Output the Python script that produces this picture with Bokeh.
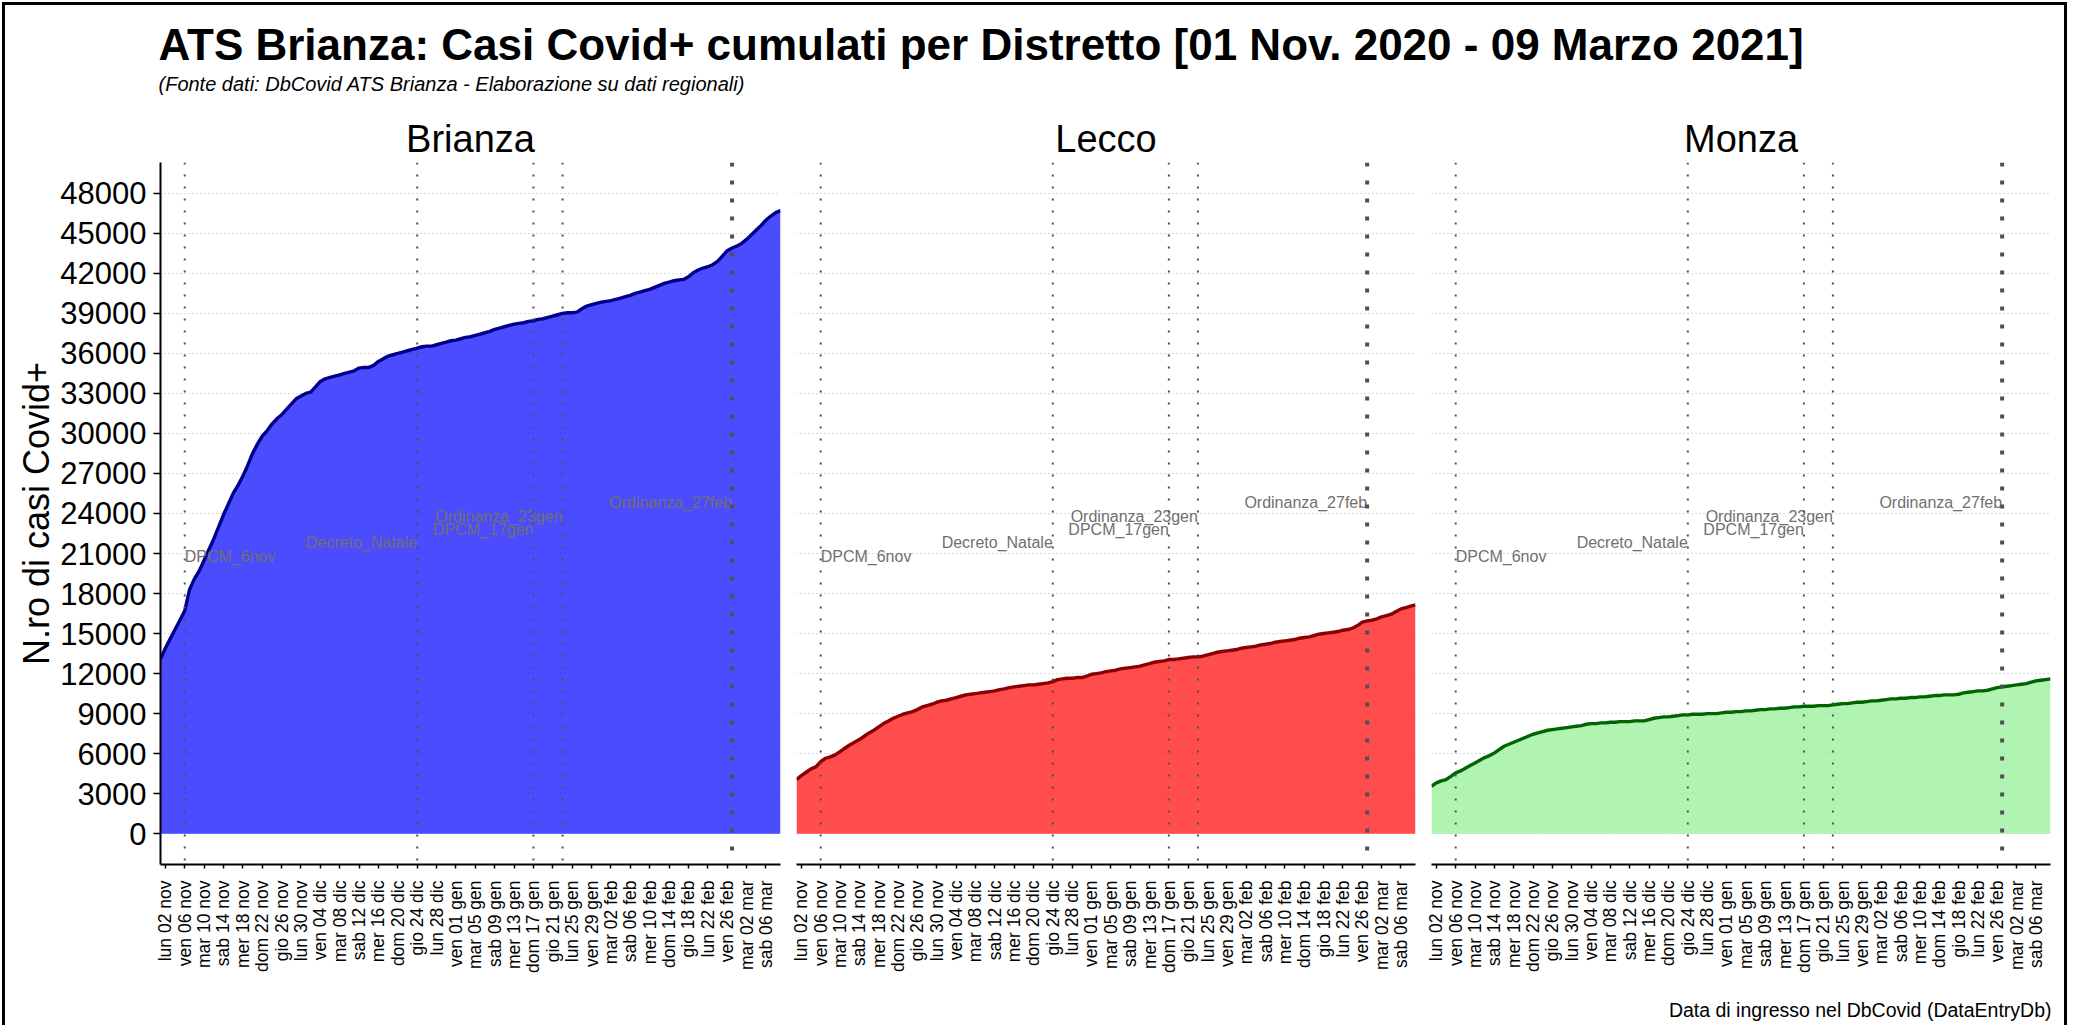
import math
from bokeh.plotting import figure
from bokeh.layouts import column, row
from bokeh.models import Range1d, FixedTicker, Span, ColumnDataSource
from bokeh.core.properties import value
from bokeh.embed import file_html
from bokeh.resources import INLINE

FONT = "Liberation Sans"

TITLE = "ATS Brianza: Casi Covid+ cumulati per Distretto [01 Nov. 2020 - 09 Marzo 2021]"
SUBTITLE = "(Fonte dati: DbCovid ATS Brianza - Elaborazione su dati regionali)"
Y_LABEL = "N.ro di casi Covid+"
X_LABEL = "Data di ingresso nel DbCovid (DataEntryDb)"

districts = ["Brianza", "Lecco", "Monza"]

# day index: 0 = 01 nov 2020 ... 128 = 09 mar 2021
brianza = [
    13100, 13900, 14600, 15300, 16000, 16700, 18300, 19100, 19700, 20500,
    21300, 22100, 23000, 23900, 24700, 25500, 26100, 26800, 27600, 28500,
    29200, 29800, 30200, 30700, 31100, 31400, 31800, 32200, 32600, 32800,
    33000, 33100, 33500, 33900, 34100, 34200, 34300, 34400, 34500, 34600,
    34700, 34900, 34950, 34950, 35100, 35400, 35600, 35800, 35900, 36000,
    36100, 36200, 36300, 36400, 36500, 36550, 36550, 36650, 36750, 36850,
    36950, 37000, 37100, 37200, 37250, 37350, 37450, 37550, 37650, 37800,
    37900, 38000, 38100, 38200, 38250, 38300, 38400, 38450, 38550, 38600,
    38700, 38800, 38900, 39000, 39050, 39050, 39100, 39350, 39550, 39650,
    39750, 39850, 39900, 39950, 40050, 40150, 40250, 40350, 40500, 40600,
    40700, 40800, 40950, 41100, 41250, 41350, 41450, 41500, 41550, 41750,
    42050, 42250, 42400, 42500, 42650, 42900, 43300, 43700, 43900, 44050,
    44250, 44550, 44900, 45250, 45600, 46000, 46300, 46550, 46700,
]
lecco = [
    4050, 4350, 4600, 4850, 5000, 5400, 5650, 5750, 5900, 6150,
    6400, 6650, 6850, 7050, 7300, 7550, 7750, 8000, 8250, 8450,
    8650, 8800, 8950, 9050, 9150, 9300, 9500, 9600, 9700, 9850,
    9950, 10000, 10100, 10200, 10300, 10400, 10450, 10500, 10550, 10600,
    10650, 10700, 10800, 10850, 10950, 11000, 11050, 11100, 11150, 11150,
    11200, 11250, 11300, 11400, 11550, 11600, 11650, 11650, 11700, 11700,
    11800, 11950, 12000, 12050, 12150, 12200, 12250, 12350, 12400, 12450,
    12500, 12550, 12650, 12750, 12850, 12900, 12950, 13050, 13050, 13100,
    13150, 13200, 13250, 13250, 13300, 13400, 13500, 13600, 13650, 13700,
    13750, 13800, 13900, 13950, 14000, 14050, 14150, 14200, 14250, 14350,
    14400, 14450, 14500, 14550, 14650, 14700, 14750, 14850, 14950, 15000,
    15050, 15100, 15150, 15250, 15300, 15400, 15600, 15850, 15950, 16000,
    16100, 16250, 16350, 16450, 16650, 16850, 16950, 17050, 17150,
]
monza = [
    3550, 3800, 3950, 4050, 4300, 4550, 4700, 4900, 5100, 5300,
    5500, 5700, 5850, 6050, 6300, 6550, 6700, 6850, 7000, 7150,
    7300, 7450, 7550, 7650, 7750, 7800, 7850, 7900, 7950, 8000,
    8050, 8100, 8200, 8250, 8250, 8300, 8300, 8350, 8350, 8400,
    8400, 8400, 8450, 8450, 8450, 8550, 8650, 8700, 8750, 8750,
    8800, 8850, 8900, 8900, 8950, 8950, 8950, 9000, 9000, 9000,
    9050, 9100, 9100, 9150, 9150, 9200, 9200, 9250, 9300, 9300,
    9350, 9350, 9400, 9400, 9450, 9500, 9500, 9550, 9550, 9550,
    9600, 9600, 9600, 9650, 9700, 9750, 9750, 9800, 9850, 9850,
    9900, 9950, 9950, 10000, 10050, 10100, 10100, 10150, 10150, 10200,
    10200, 10250, 10250, 10300, 10350, 10350, 10400, 10400, 10400, 10450,
    10550, 10600, 10650, 10700, 10700, 10750, 10850, 10950, 11000, 11050,
    11100, 11150, 11200, 11250, 11350, 11450, 11500, 11550, 11600,
]
days = list(range(len(brianza)))

tick_days = [1, 5, 9, 13, 17, 21, 25, 29, 33, 37, 41, 45, 49, 53, 57, 61,
             65, 69, 73, 77, 81, 85, 89, 93, 97, 101, 105, 109, 113, 117, 121, 125]
tick_labels = ["lun 02 nov", "ven 06 nov", "mar 10 nov", "sab 14 nov", "mer 18 nov",
               "dom 22 nov", "gio 26 nov", "lun 30 nov", "ven 04 dic", "mar 08 dic",
               "sab 12 dic", "mer 16 dic", "dom 20 dic", "gio 24 dic", "lun 28 dic",
               "ven 01 gen", "mar 05 gen", "sab 09 gen", "mer 13 gen", "dom 17 gen",
               "gio 21 gen", "lun 25 gen", "ven 29 gen", "mar 02 feb", "sab 06 feb",
               "mer 10 feb", "dom 14 feb", "gio 18 feb", "lun 22 feb", "ven 26 feb",
               "mar 02 mar", "sab 06 mar"]
y_ticks = [0, 3000, 6000, 9000, 12000, 15000, 18000, 21000, 24000, 27000,
           30000, 33000, 36000, 39000, 42000, 45000, 48000]

event_names = ["DPCM_6nov", "Decreto_Natale", "DPCM_17gen", "Ordinanza_23gen", "Ordinanza_27feb"]
event_days = [5, 53, 77, 83, 118]
event_label_y = [20800, 21800, 22800, 23800, 24800]

series = [brianza, lecco, monza]
fills = ["#0000FF", "#FF0000", "#90EE90"]
strokes = ["#00008B", "#8B0000", "#006400"]

# ---------------- layout constants (px) ----------------
INNER_W = 2059
HEADER_H = 157
FRAME_H = 705
BOTTOM_B = 108
PANEL_H = FRAME_H + BOTTOM_B
FOOTER_H = 50
FRAME_W = [620, 619, 619]
LEFT = [155, 8, 8]
RIGHT = [8, 8, 14]

header = figure(width=INNER_W, height=HEADER_H, x_range=Range1d(0, INNER_W),
                y_range=Range1d(HEADER_H, 0), x_axis_location=None, y_axis_location=None,
                min_border=0, toolbar_location=None, outline_line_color=None,
                output_backend="svg")
header.grid.visible = False
header.text(x=[153], y=[38.5], text=[TITLE], text_font=value(FONT), text_font_style="bold",
            text_font_size="44px", text_align="left", text_baseline="alphabetic",
            text_color="black")
header.text(x=[153], y=[78], text=[SUBTITLE], text_font=value(FONT), text_font_style="italic",
            text_font_size="20px", text_align="left", text_baseline="alphabetic",
            text_color="black")

panel_centers = []
xpos = 0
for i in range(3):
    panel_centers.append(xpos + LEFT[i] + FRAME_W[i] / 2)
    xpos += LEFT[i] + FRAME_W[i] + RIGHT[i]
header.text(x=panel_centers, y=[133, 133, 133], text=districts, text_font=value(FONT),
            text_font_size="38px", text_align="center", text_baseline="alphabetic",
            text_color="black")

yr = Range1d(-2314, 50313)
panels = []
for i in range(3):
    w = LEFT[i] + FRAME_W[i] + RIGHT[i]
    p = figure(width=w, height=PANEL_H, x_range=Range1d(0, 128), y_range=yr,
               min_border_left=LEFT[i], min_border_right=RIGHT[i], min_border_top=0,
               min_border_bottom=BOTTOM_B,
               toolbar_location=None, outline_line_color=None, output_backend="svg",
               background_fill_color="white", border_fill_color="white")
    p.xgrid.visible = False
    p.ygrid.ticker = FixedTicker(ticks=y_ticks)
    p.ygrid.grid_line_color = "#b4b4b4"
    p.ygrid.grid_line_dash = "1 3"
    p.ygrid.grid_line_width = 1

    xa = p.xaxis[0]
    xa.ticker = FixedTicker(ticks=tick_days)
    xa.major_label_overrides = {d: l for d, l in zip(tick_days, tick_labels)}
    xa.major_label_orientation = math.pi / 2
    xa.major_label_text_font = FONT
    xa.major_label_text_font_size = "17.5px"
    xa.major_label_text_color = "black"
    xa.major_label_standoff = 12
    xa.major_tick_out = 4
    xa.major_tick_in = 0
    xa.minor_tick_out = 0
    xa.minor_tick_in = 0
    xa.axis_line_color = "black"
    xa.axis_line_width = 2
    xa.major_tick_line_color = "black"
    xa.major_tick_line_width = 1.5

    ya = p.yaxis[0]
    if i == 0:
        ya.ticker = FixedTicker(ticks=y_ticks)
        ya.major_label_text_font = FONT
        ya.major_label_text_font_size = "31px"
        ya.major_label_text_color = "black"
        ya.major_label_standoff = 7
        ya.major_tick_out = 7
        ya.major_tick_in = 0
        ya.minor_tick_out = 0
        ya.minor_tick_in = 0
        ya.axis_line_color = "black"
        ya.axis_line_width = 2
        ya.major_tick_line_color = "black"
        ya.major_tick_line_width = 1.5
        ya.axis_label = Y_LABEL
        ya.axis_label_text_font = FONT
        ya.axis_label_text_font_size = "36px"
        ya.axis_label_text_font_style = "normal"
        ya.axis_label_text_color = "black"
        ya.axis_label_standoff = 0
    else:
        ya.visible = False

    src = ColumnDataSource(dict(x=days, y=series[i]))
    p.varea(x="x", y1=0, y2="y", source=src, fill_color=fills[i], fill_alpha=0.7)
    p.line(x="x", y="y", source=src, line_color=strokes[i], line_width=3.4)

    for k, d in enumerate(event_days):
        if k == len(event_days) - 1:
            sp = Span(location=d, dimension="height", line_color="#505050",
                      line_width=4, line_dash="4 14")
        else:
            sp = Span(location=d, dimension="height", line_color="#505050",
                      line_width=2, line_dash="2 10")
        p.add_layout(sp)

    lsrc = ColumnDataSource(dict(x=event_days, y=event_label_y, t=event_names,
                                 a=["left", "right", "right", "right", "right"]))
    p.text(x="x", y="y", text="t", source=lsrc, text_align="a", text_baseline="middle",
           text_font=value(FONT), text_font_size="16px", text_color="#707070")
    panels.append(p)

footer = figure(width=INNER_W, height=FOOTER_H, x_range=Range1d(0, INNER_W),
                y_range=Range1d(FOOTER_H, 0), x_axis_location=None, y_axis_location=None,
                min_border=0, toolbar_location=None, outline_line_color=None,
                output_backend="svg")
footer.grid.visible = False
footer.text(x=[2046], y=[34], text=[X_LABEL], text_font=value(FONT),
            text_font_size="19.5px", text_align="right", text_baseline="alphabetic",
            text_color="black")

layout = column(header, row(*panels), footer,
                styles={"margin-left": "2px", "margin-top": "2px",
                        "border-top": "3px solid black", "border-left": "3px solid black",
                        "border-right": "3px solid black"})

open("out.html", "w").write(file_html(layout, INLINE))
